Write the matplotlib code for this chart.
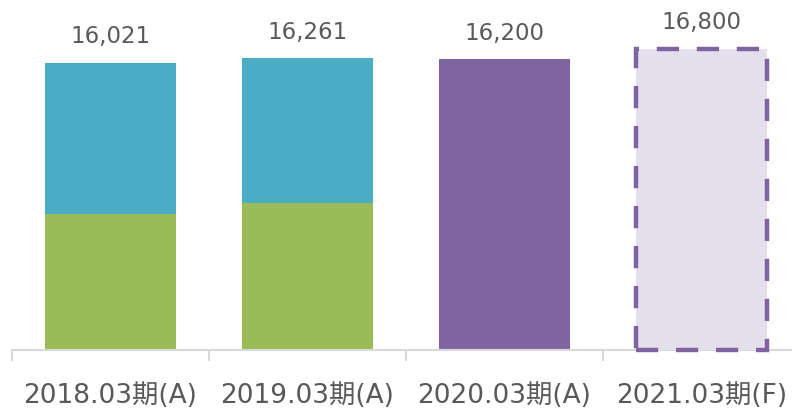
import matplotlib.pyplot as plt
import numpy as np

plt.rcParams['font.family'] = ['DejaVu Sans', 'Noto Sans CJK JP']

# data
categories = ['2018.03期(A)', '2019.03期(A)', '2020.03期(A)', '2021.03期(F)']
lower_vals = [7550, 8200, 0, 0]           # green segment
upper_vals = [16021 - 7550, 16261 - 8200, 0, 0]  # blue segment
single_vals = [0, 0, 16200, 0]            # purple actual
forecast_vals = [0, 0, 0, 16800]          # dashed forecast
totals = [16021, 16261, 16200, 16800]

GREEN = '#9BBB59'
BLUE = '#4BACC6'
PURPLE = '#8064A2'
LIGHT = '#E4DFEC'
TEXT = '#595959'
AXIS = '#D9D9D9'

W, H = 792, 409
fig = plt.figure(figsize=(W / 100, H / 100), dpi=100)
ax_left, ax_right = 12, 800
ax_bottom_px = 349.5
ax = fig.add_axes([ax_left / W, (H - ax_bottom_px) / H,
                   (ax_right - ax_left) / W, ax_bottom_px / H])

x = np.arange(len(categories))
bw = 0.67


def nz(vals):
    # keep only the categories that have a value, so empty bars draw no edge
    idx = [i for i, v in enumerate(vals) if v]
    return idx, [vals[i] for i in idx]


i, v = nz(lower_vals)
ax.bar(x[i], v, bw, color=GREEN)
i, v = nz(upper_vals)
ax.bar(x[i], v, bw, bottom=[lower_vals[k] for k in i], color=BLUE)
i, v = nz(single_vals)
ax.bar(x[i], v, bw, color=PURPLE)
i, v = nz(forecast_vals)
ax.bar(x[i], v, bw, facecolor=LIGHT, edgecolor=PURPLE,
       linewidth=3.2, linestyle=(0, (5, 4)), clip_on=False, zorder=3)

for xi, t in zip(x, totals):
    ax.annotate(f'{t:,}', (xi, t), xytext=(0, 14), textcoords='offset points',
                ha='center', va='baseline', fontsize=16.5, color=TEXT)

px_per_unit = 286.8 / 16021
ax.set_xlim(-0.5, len(categories) - 0.5)
ax.set_ylim(0, ax_bottom_px / px_per_unit)

for s in ['left', 'right', 'top']:
    ax.spines[s].set_visible(False)
ax.spines['bottom'].set_color(AXIS)
ax.spines['bottom'].set_linewidth(1.5)
ax.set_yticks([])

ax.set_xticks(x)
ax.set_xticklabels(categories, fontsize=19, color=TEXT)
ax.tick_params(axis='x', which='major', length=0, pad=24)
ax.set_xticks(np.arange(len(categories) + 1) - 0.5, minor=True)
ax.tick_params(axis='x', which='minor', length=8, width=1.5, color=AXIS)

fig.savefig('out.png', dpi=100)
